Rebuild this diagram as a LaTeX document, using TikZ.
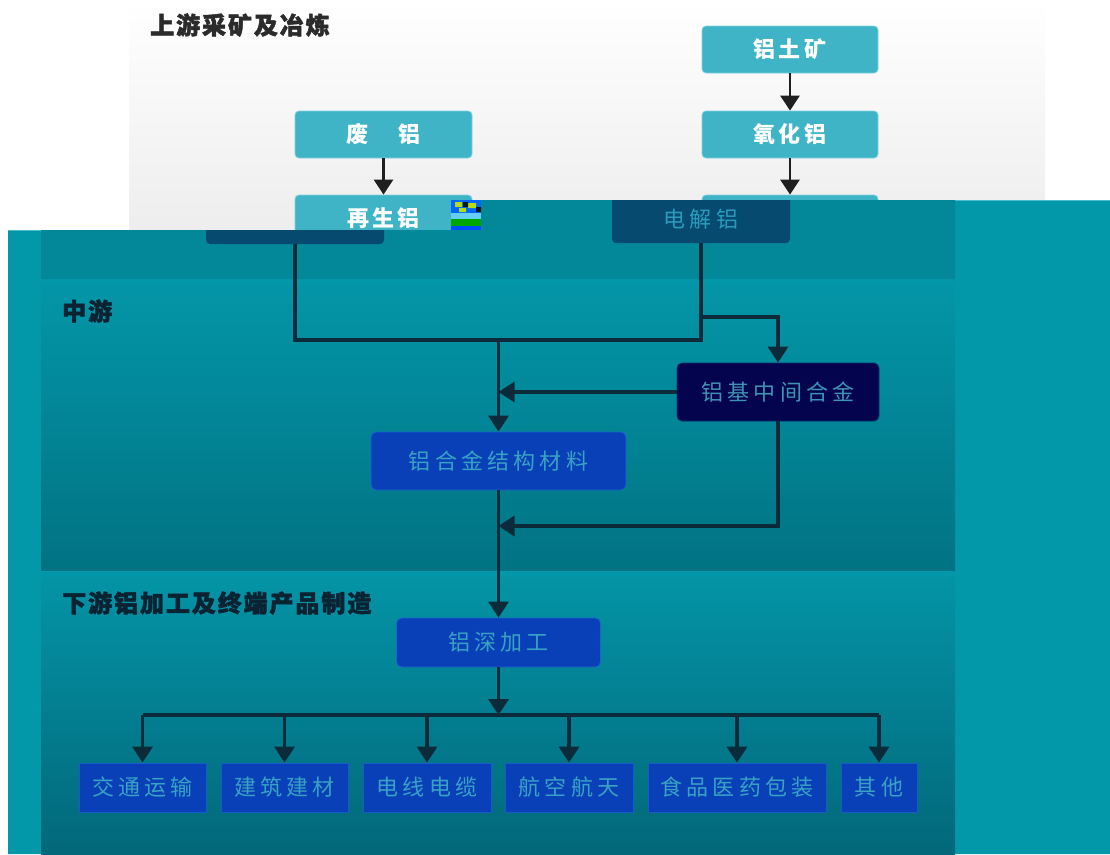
\documentclass[tikz,border=0pt]{standalone}
\usepackage{fontspec}
\setmainfont{Noto Sans CJK SC}
\newfontfamily\boxfont[LetterSpace=14]{Noto Sans CJK SC}
\newfontfamily\wideboxfont[LetterSpace=19]{Noto Sans CJK SC}
\newfontfamily\titlefont[LetterSpace=8,BoldFeatures={FakeBold=2}]{Noto Sans CJK SC}
\usetikzlibrary{arrows.meta}
\definecolor{pageteal}{HTML}{0298AA}
\definecolor{upteal}{HTML}{03889A}
\definecolor{midtop}{HTML}{0396A8}
\definecolor{midbot}{HTML}{017383}
\definecolor{lowtop}{HTML}{0394A6}
\definecolor{lowbot}{HTML}{02687A}
\definecolor{lightbox}{HTML}{40B4C7}
\definecolor{lightedge}{HTML}{7FD2DE}
\definecolor{darkbox}{HTML}{064A70}
\definecolor{darktext}{HTML}{2A9CBB}
\definecolor{navybox}{HTML}{03034E}
\definecolor{navytext}{HTML}{3E93B3}
\definecolor{bluebox}{HTML}{0A40B7}
\definecolor{blueedge}{HTML}{1B66CC}
\definecolor{bluetext}{HTML}{38A2C4}
\definecolor{connector}{HTML}{0B2B3B}
\definecolor{uptitle}{HTML}{2B2B2B}
\definecolor{lowtitle}{HTML}{0A2333}
\tikzset{
  x=1pt, y=-1pt,
  upbox/.style={fill=lightbox, draw=lightedge, line width=0.8pt, rounded corners=4pt,
    inner sep=0pt, minimum height=47pt, text=white, font=\boxfont\bfseries\fontsize{22}{24}\selectfont},
  tealbox/.style={fill=darkbox, rounded corners=4pt, inner sep=0pt, minimum width=178pt,
    text=darktext, font=\wideboxfont\fontsize{22}{24}\selectfont},
  navynode/.style={fill=navybox, draw=navybox!70!pageteal, line width=0.8pt, rounded corners=5pt,
    inner sep=0pt, text=navytext, font=\wideboxfont\fontsize{22}{24}\selectfont},
  bluenode/.style={fill=bluebox, draw=blueedge, line width=0.8pt, rounded corners=5pt,
    inner sep=0pt, text=bluetext, font=\wideboxfont\fontsize{22}{24}\selectfont},
  endbox/.style={fill=bluebox, draw=blueedge!70!bluebox, line width=0.8pt,
    inner sep=0pt, minimum height=49pt, text=bluetext, font=\wideboxfont\fontsize{22}{24}\selectfont},
  uparrow/.style={draw=black!88, line width=2.8pt, -{Triangle[width=19pt,length=15pt]}},
  conn/.style={draw=connector, line width=3.4pt},
  connarrow/.style={conn, -{Triangle[width=20pt,length=16pt]}},
  sectitle/.style={anchor=west, inner sep=0pt, font=\titlefont\bfseries\fontsize{24}{26}\selectfont},
}
\begin{document}
\begin{tikzpicture}
\useasboundingbox (0,0) rectangle (1110,854);
\fill[white] (0,0) rectangle (1110,854);
% ---------- upstream (light layer) ----------
\shade[top color=white, bottom color=black!7] (129,0) rectangle (1045,232);
\node[sectitle, text=uptitle] (uptitle) at (150,25) {上游采矿及冶炼};
\node[upbox, minimum width=177pt] (fei)  at (383.5,134.5) {废\hspace{30pt}铝};
\node[upbox, minimum width=177pt] (zai)  at (383.5,218.5) {再生铝};
\node[upbox, minimum width=176pt] (tu)   at (790,49.5)   {铝土矿};
\node[upbox, minimum width=176pt] (yang) at (790,134.5)  {氧化铝};
\node[upbox, minimum width=176pt] (dj)   at (790,218.5)  {电解铝};
\draw[uparrow] (fei.south) -- (zai.north);
\draw[uparrow] (tu.south) -- (yang.north);
\draw[uparrow] (yang.south) -- (dj.north);
% ---------- teal overlay ----------
\fill[pageteal] (8,230) -- (481,230) -- (481,200) -- (1110,200) -- (1110,854) -- (8,854) -- cycle;
\draw[lightedge!60!pageteal, line width=1pt] (8,230.5) -- (481,230.5) (481,200.5) -- (1110,200.5);
\fill[upteal] (41,230) -- (481,230) -- (481,200) -- (955,200) -- (955,279) -- (41,279) -- cycle;
\shade[top color=midtop, bottom color=midbot] (41,282) rectangle (955,570);
\shade[top color=lowtop, bottom color=lowbot] (41,576) rectangle (955,854);
% glitch block
\fill[blue!60!cyan] (451,200) rectangle (481,213);
\fill[yellow!70!green] (455,202) rectangle (462,207) (468,203) rectangle (476,208) (459,208) rectangle (466,212);
\fill[black!80!teal] (463,202) rectangle (468,207) (476,207) rectangle (481,212);
\fill[cyan!60] (451,213) rectangle (481,219);
\fill[green!65!black] (451,219) rectangle (481,226);
\fill[blue!70!cyan] (451,226) rectangle (481,230);
% dark boxes cut by the overlay
\begin{scope}
\clip (0,230) -- (481,230) -- (481,200) -- (1110,200) -- (1110,854) -- (0,854) -- cycle;
\node[tealbox, minimum height=48pt] (zaiD) at (295,220) {};
\node[tealbox, minimum height=48pt] (djD) at (701,219) {电解铝};
\end{scope}
% ---------- midstream ----------
\node[sectitle, text=lowtitle] (midtitle) at (62,311) {中游};
\node[navynode, minimum width=202pt, minimum height=58pt] (alloyM) at (778,392) {铝基中间合金};
\node[bluenode, minimum width=255pt, minimum height=58pt] (struct) at (498.5,461) {铝合金结构材料};
\coordinate (m1) at (498.5,340);
\coordinate (b1) at (701,317);
\coordinate (m2) at (498.5,526);
\draw[conn] (zaiD.south) |- (m1) -| (djD.south);
\draw[connarrow] (m1) -- (struct.north);
\draw[connarrow] (b1) -| (alloyM.north);
\draw[connarrow] (alloyM.west) -- (alloyM.west -| m1);
\draw[connarrow] (alloyM.south) |- (m2);
% ---------- downstream ----------
\node[sectitle, text=lowtitle] (lowtitle) at (62,603) {下游铝加工及终端产品制造};
\node[bluenode, minimum width=204pt, minimum height=49pt] (deep) at (498.5,642.5) {铝深加工};
\draw[connarrow] (struct.south) -- (deep.north);
\node[endbox, minimum width=127pt] (jt) at (142.5,787.5) {交通运输};
\node[endbox, minimum width=127pt] (jz) at (284.5,787.5) {建筑建材};
\node[endbox, minimum width=128pt] (dx) at (427,787.5)   {电线电缆};
\node[endbox, minimum width=128pt] (hk) at (569,787.5)   {航空航天};
\node[endbox, minimum width=178pt] (sp) at (737,787.5)   {食品医药包装};
\node[endbox, minimum width=76pt]  (qt) at (879,787.5)   {其他};
\coordinate (bus) at (498.5,715);
\draw[connarrow] (deep.south) -- (bus);
\draw[conn] (jt.north |- bus) -- (qt.north |- bus);
\foreach \b in {jt,jz,dx,hk,sp,qt}
  \draw[connarrow] (\b.north |- bus) -- (\b.north);
\end{tikzpicture}
\end{document}
